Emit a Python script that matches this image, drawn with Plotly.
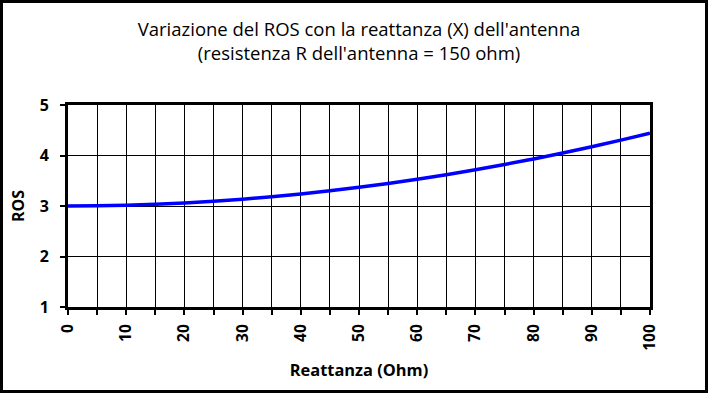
import plotly.graph_objects as go

reattanza = [0, 5, 10, 15, 20, 25, 30, 35, 40, 45, 50, 55, 60, 65, 70, 75, 80, 85, 90, 95, 100]
ros = [3.000, 3.004, 3.015, 3.034, 3.060, 3.093, 3.134, 3.182, 3.238, 3.300, 3.370,
       3.447, 3.530, 3.620, 3.718, 3.822, 3.932, 4.050, 4.174, 4.304, 4.442]
x_ticks = [0, 10, 20, 30, 40, 50, 60, 70, 80, 90, 100]
y_ticks = [1, 2, 3, 4, 5]

W, H = 709, 394
L, R, T, B = 68, 59, 105, 87
pw, ph = W - L - R, H - T - B
FONT = "Open Sans, sans-serif"

fig = go.Figure()
fig.add_trace(go.Scatter(x=reattanza, y=ros, mode="lines",
                         line=dict(color="#0000FF", width=3.5), line_shape="spline",
                         showlegend=False, hoverinfo="x+y"))

fig.update_layout(
    width=W, height=H,
    margin=dict(l=L, r=R, t=T, b=B, autoexpand=False),
    paper_bgcolor="white", plot_bgcolor="white",
    font=dict(family=FONT, color="black"),
    title=dict(text="Variazione del ROS con la reattanza (X) dell'antenna<br>(resistenza R dell'antenna = 150 ohm)",
               x=0.5, xanchor="center", xref="paper", y=1 - 36 / H, yanchor="top",
               font=dict(size=18.5, family=FONT)),
    xaxis=dict(range=[0, 100], tickvals=x_ticks, tickangle=-90, automargin=False,
               ticks="outside", ticklen=5, tickwidth=2, tickcolor="black",
               showgrid=True, gridcolor="black", gridwidth=1,
               minor=dict(dtick=5, ticks="outside", ticklen=5, tickwidth=2, tickcolor="black",
                          showgrid=True, gridcolor="black", gridwidth=1),
               showline=True, linecolor="black", linewidth=3, mirror=True,
               zeroline=False, ticklabelstandoff=3,
               tickfont=dict(size=15.5, family=FONT, weight="bold"),
               title=dict(text="<b>Reattanza (Ohm)</b>", font=dict(size=16.4, family=FONT), standoff=15)),
    yaxis=dict(range=[1, 5], tickvals=y_ticks, automargin=False,
               ticks="outside", ticklen=5, tickwidth=2, tickcolor="black",
               showgrid=True, gridcolor="black", gridwidth=1,
               showline=True, linecolor="black", linewidth=3, mirror=True,
               zeroline=False, ticklabelstandoff=8,
               tickfont=dict(size=16, family=FONT, weight="bold"),
               title=dict(text="<b>ROS</b>", font=dict(size=16, family=FONT), standoff=12)),
)

fig.add_shape(type="rect", xref="paper", yref="paper",
              x0=(1.5 - L) / pw, x1=(W - 2.5 - L) / pw,
              y0=(ph + T - (H - 2.5)) / ph, y1=(ph + T - 1.5) / ph,
              line=dict(color="black", width=3), fillcolor="rgba(0,0,0,0)", layer="above")

fig.write_html("out.html", config={"displayModeBar": False},
               post_script="document.body.style.margin='0';")
